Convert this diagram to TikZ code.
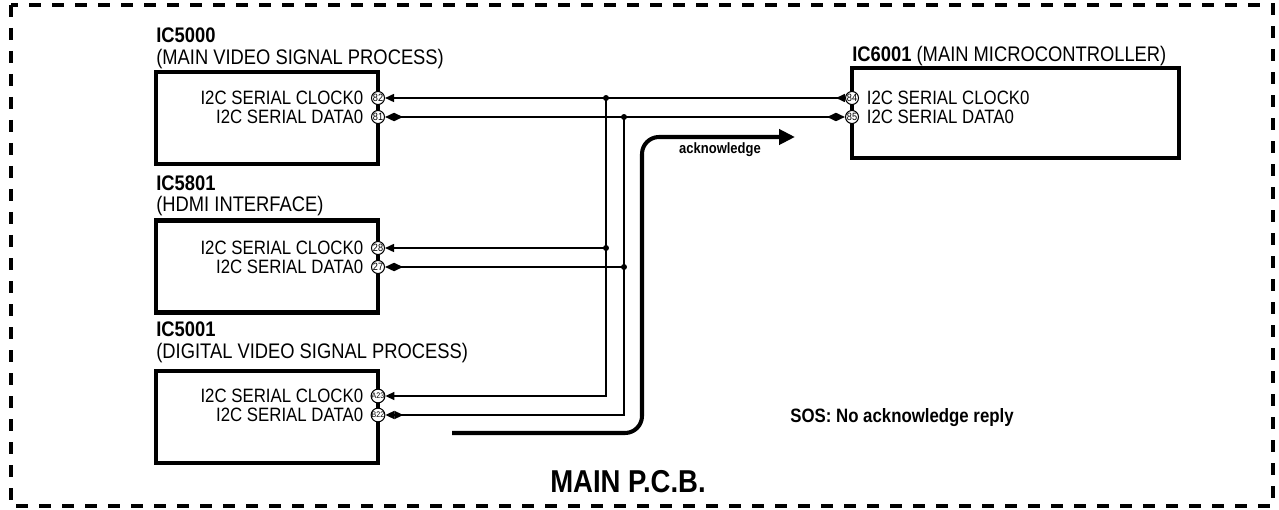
\documentclass[tikz,border=0pt]{standalone}
\usepackage{fontspec}
\setmainfont{Liberation Sans}[FakeStretch=0.87]
\usetikzlibrary{arrows.meta}

\tikzset{
  tipl/.tip={Triangle[length=0.18cm, width=0.16cm]},
  tipr/.tip={Triangle[length=0.18cm, width=0.16cm, reversed]}
}

\begin{document}
\begin{tikzpicture}[
  box/.style={draw, line width=2.3pt, minimum width=4.44cm, minimum height=1.84cm},
  pad/.style={draw, circle, fill=white, line width=0.6pt, inner sep=0pt, minimum size=0.26cm, font=\fontsize{6}{6}\selectfont},
  sig/.style={inner sep=0pt, font=\fontsize{11}{12}\selectfont},
  title/.style={anchor=base west, inner sep=0pt, font=\fontsize{12}{14}\selectfont},
  bus/.style={line width=0.9pt},
  ack/.style={line width=2.3pt, rounded corners=0.34cm, -{Triangle[length=0.32cm, width=0.3cm]}},
  border/.style={line width=2pt, dash pattern=on 0.24cm off 0.22cm}
]
\useasboundingbox (0,0) rectangle (25.58,-10.20);
\draw[border] (0.22,-0.10) rectangle (25.46,-10.12);

\node[box] at (5.34,-2.36) (ic5000) {};
\node[box] at (5.34,-5.33) (ic5801) {};
\node[box] at (5.34,-8.34) (ic5001) {};
\node[box, minimum width=6.54cm, minimum height=1.80cm] at (20.31,-2.26) (ic6001) {};

\node[title] at (3.12,-0.86) (t5000) {\textbf{IC5000}};
\node[title] at (3.12,-1.29) (s5000) {(MAIN VIDEO SIGNAL PROCESS)};
\node[title] at (3.12,-3.82) (t5801) {\textbf{IC5801}};
\node[title] at (3.12,-4.24) (s5801) {(HDMI INTERFACE)};
\node[title] at (3.12,-6.74) (t5001) {\textbf{IC5001}};
\node[title] at (3.12,-7.18) (s5001) {(DIGITAL VIDEO SIGNAL PROCESS)};
\node[title] at (17.04,-1.24) (t6001) {\textbf{IC6001} (MAIN MICROCONTROLLER)};

\node[pad] at (7.56,-1.96) (p82) {82};
\node[pad] at (7.56,-2.34) (p81) {81};
\node[pad] at (7.56,-4.96) (p28) {28};
\node[pad] at (7.56,-5.34) (p27) {27};
\node[pad, font=\fontsize{4.6}{5}\selectfont] at (7.56,-7.92) (pA23) {A23};
\node[pad, font=\fontsize{4.6}{5}\selectfont] at (7.56,-8.30) (pB22) {B22};
\node[pad] at (17.04,-1.96) (p84) {84};
\node[pad] at (17.04,-2.34) (p85) {85};

\node[sig, anchor=east] at (7.27,-1.96) (l82) {I2C SERIAL CLOCK0};
\node[sig, anchor=east] at (7.27,-2.34) (l81) {I2C SERIAL DATA0};
\node[sig, anchor=east] at (7.27,-4.96) (l28) {I2C SERIAL CLOCK0};
\node[sig, anchor=east] at (7.27,-5.34) (l27) {I2C SERIAL DATA0};
\node[sig, anchor=east] at (7.27,-7.92) (lA23) {I2C SERIAL CLOCK0};
\node[sig, anchor=east] at (7.27,-8.30) (lB22) {I2C SERIAL DATA0};
\node[sig, anchor=west] at (17.33,-1.96) (l84) {I2C SERIAL CLOCK0};
\node[sig, anchor=west] at (17.33,-2.34) (l85) {I2C SERIAL DATA0};

\coordinate (clkbus) at (12.12,-1.96);
\coordinate (datbus) at (12.48,-2.34);

\draw[bus, arrows={tipr[]}-{tipl[]}] (p84.west) -- (p82.east);
\draw[bus, arrows={tipl[]tipr[]}-{tipr[]tipl[]}] (p85.west) -- (p81.east);
\draw[bus, arrows=-{tipl[]}] (clkbus) |- (pA23.east);
\draw[bus, arrows=-{tipr[]tipl[]}] (datbus) |- (pB22.east);
\draw[bus, arrows=-{tipl[]}] (clkbus |- p28) -- (p28.east);
\draw[bus, arrows=-{tipr[]tipl[]}] (datbus |- p27) -- (p27.east);
\fill (clkbus) circle[radius=1.7pt];
\fill (datbus) circle[radius=1.7pt];
\fill (clkbus |- p28) circle[radius=1.7pt];
\fill (datbus |- p27) circle[radius=1.7pt];

\coordinate (ackstart) at (9.04,-8.66);
\coordinate (ackbend) at (12.84,-2.74);
\coordinate (ackend) at (15.90,-2.74);
\draw[ack] (ackstart) -| (ackbend) -- (ackend);
\node[font=\bfseries\fontsize{8.5}{10}\selectfont] at (14.40,-3.00) (acklabel) {acknowledge};

\node[font=\bfseries\fontsize{11}{13}\selectfont] at (18.04,-8.36) (sos) {SOS: No acknowledge reply};
\node[font=\bfseries\fontsize{18}{20}\selectfont] at (12.56,-9.64) (pcb) {MAIN P.C.B.};
\end{tikzpicture}
\end{document}
